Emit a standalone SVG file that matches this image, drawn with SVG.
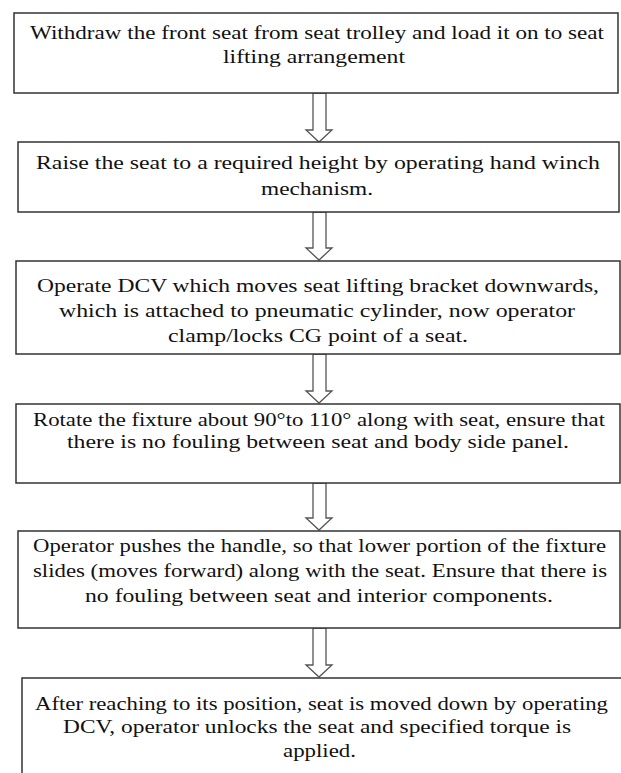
<svg xmlns="http://www.w3.org/2000/svg" width="621" height="773" viewBox="0 0 621 773">
<style>
.box{fill:#fff;stroke:#333;stroke-width:1.5}
.arr{fill:#fff;stroke:#555;stroke-width:1.3;stroke-linejoin:miter}
text{font-family:"Liberation Serif","Times New Roman",serif;font-size:19px;fill:#111}
</style>
<rect width="621" height="773" fill="#fff"/>
<g id="connectors">
<polygon class="arr" points="313,93 326,93 326,130 332,130 319,142 306,130 313,130"/>
<polygon class="arr" points="313,212 326,212 326,248 332,248 319,260 306,248 313,248"/>
<polygon class="arr" points="313,354 326,354 326,391 332,391 319,403 306,391 313,391"/>
<polygon class="arr" points="313,483 326,483 326,518 332,518 319,530 306,518 313,518"/>
<polygon class="arr" points="313,628 326,628 326,665 332,665 319,677 306,665 313,665"/>
</g>
<g id="step1">
<rect class="box" x="14" y="13" width="604" height="80"/>
<text x="30" y="39" textLength="574" lengthAdjust="spacingAndGlyphs">Withdraw the front seat from seat trolley and load it on to seat</text>
<text x="223" y="63" textLength="182" lengthAdjust="spacingAndGlyphs">lifting arrangement</text>
</g>
<g id="step2">
<rect class="box" x="18" y="142" width="601" height="70"/>
<text x="36" y="169" textLength="564" lengthAdjust="spacingAndGlyphs">Raise the seat to a required height by operating hand winch</text>
<text x="261" y="195" textLength="112" lengthAdjust="spacingAndGlyphs">mechanism.</text>
</g>
<g id="step3">
<rect class="box" x="16" y="261" width="604" height="93"/>
<text x="37" y="292" textLength="562" lengthAdjust="spacingAndGlyphs">Operate DCV which moves seat lifting bracket downwards,</text>
<text x="59" y="317" textLength="516" lengthAdjust="spacingAndGlyphs">which is attached to pneumatic cylinder, now operator</text>
<text x="168" y="342" textLength="300" lengthAdjust="spacingAndGlyphs">clamp/locks CG point of a seat.</text>
</g>
<g id="step4">
<rect class="box" x="16" y="404" width="604" height="79"/>
<text x="33" y="426" textLength="572" lengthAdjust="spacingAndGlyphs">Rotate the fixture about 90°to 110° along with seat, ensure that</text>
<text x="67" y="448" textLength="502" lengthAdjust="spacingAndGlyphs">there is no fouling between seat and body side panel.</text>
</g>
<g id="step5">
<rect class="box" x="18" y="531" width="602" height="97"/>
<text x="33" y="552" textLength="573" lengthAdjust="spacingAndGlyphs">Operator pushes the handle, so that lower portion of the fixture</text>
<text x="33" y="577" textLength="574" lengthAdjust="spacingAndGlyphs">slides (moves forward) along with the seat. Ensure that there is</text>
<text x="85" y="602" textLength="468" lengthAdjust="spacingAndGlyphs">no  fouling between seat and interior components.</text>
</g>
<g id="step6">
<rect class="box" x="22" y="678" width="610" height="120"/>
<text x="35" y="710" textLength="573" lengthAdjust="spacingAndGlyphs">After reaching to its position, seat is moved down by operating</text>
<text x="63" y="733" textLength="508" lengthAdjust="spacingAndGlyphs">DCV, operator unlocks the seat and specified torque is</text>
<text x="283" y="757" textLength="73" lengthAdjust="spacingAndGlyphs">applied.</text>
</g>
</svg>
